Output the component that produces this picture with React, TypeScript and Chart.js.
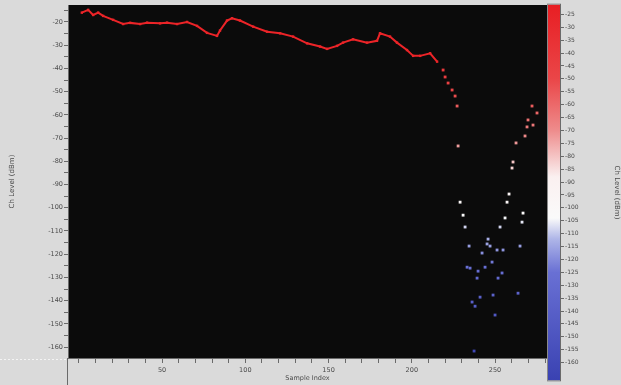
import React, { useEffect, useRef } from 'react';
import { Chart, registerables } from 'chart.js';
Chart.register(...registerables);

// ---- data ----
const traceX = [1.8, 5.6, 8.6, 11.6, 14.6, 20.6, 26.6, 30.8, 36.8, 41.0, 48.8, 53.0, 59.0, 65.0, 71.0, 77.0, 83.0, 84.8, 89.0, 92.0, 96.8, 104.7, 113.1, 120.9, 128.7, 137.1, 144.9, 149.1, 155.1, 158.7, 164.7, 173.1, 179.1, 180.9, 186.9, 191.1, 197.1, 200.8, 205.0, 211.0, 215.2];
const traceY = [-16.0, -14.8, -17.0, -16.0, -17.4, -19.1, -20.9, -20.4, -20.9, -20.3, -20.6, -20.3, -20.9, -20.0, -21.7, -24.7, -26.0, -23.7, -19.4, -18.4, -19.4, -22.0, -24.2, -24.9, -26.3, -29.2, -30.6, -31.6, -30.3, -28.9, -27.5, -28.9, -28.1, -24.9, -26.3, -28.9, -32.1, -34.6, -34.6, -33.5, -37.1];

const dotX = [218.8, 220.0, 221.8, 224.2, 226.0, 227.2, 227.8, 229.0, 230.8, 232.0, 234.4, 233.2, 235.0, 239.8, 239.2, 236.2, 238.0, 241.0, 237.4, 242.2, 244.0, 245.8, 245.2, 247.0, 248.2, 248.8, 250.0, 251.2, 251.8, 254.2, 254.8, 253.0, 256.0, 257.2, 258.4, 260.2, 260.8, 262.6, 268.0, 269.2, 269.8, 272.2, 272.8, 275.2, 266.8, 266.2, 265.0, 263.8];
const dotY = [-40.7, -43.7, -46.3, -49.3, -51.9, -56.2, -73.4, -97.6, -103.2, -108.3, -116.5, -125.6, -126.0, -127.3, -130.3, -140.6, -142.4, -138.5, -161.7, -119.5, -125.6, -113.5, -115.6, -116.5, -123.4, -137.6, -146.2, -118.2, -130.3, -128.1, -118.2, -108.3, -104.4, -97.6, -94.1, -82.9, -80.3, -72.1, -69.1, -65.2, -62.2, -56.2, -64.4, -59.2, -102.3, -106.2, -116.5, -136.8];

const xLabelValues = [50, 100, 150, 200, 250];
const colorbarMin = -166.9;
const colorbarMax = -21.2;
const colorbarLabelMin = -160;

const xTitle = 'Sample Index';
const yTitle = 'Ch Level (dBm)';
const cbTitle = 'Ch Level (dBm)';

// colormap: value -> rgb
const cmap: [number, number, number, number][] = [
  [-21, 232, 30, 35],
  [-50, 234, 70, 72],
  [-70, 238, 140, 140],
  [-88, 250, 240, 240],
  [-104, 250, 250, 250],
  [-112, 175, 182, 232],
  [-125, 105, 112, 212],
  [-167, 58, 66, 178],
];
function colorFor(v: number): string {
  if (v >= cmap[0][0]) return `rgb(${cmap[0][1]},${cmap[0][2]},${cmap[0][3]})`;
  for (let i = 0; i < cmap.length - 1; i++) {
    const a = cmap[i], b = cmap[i + 1];
    if (v <= a[0] && v >= b[0]) {
      const t = (a[0] - v) / (a[0] - b[0]);
      const r = Math.round(a[1] + (b[1] - a[1]) * t);
      const g = Math.round(a[2] + (b[2] - a[2]) * t);
      const bl = Math.round(a[3] + (b[3] - a[3]) * t);
      return `rgb(${r},${g},${bl})`;
    }
  }
  const l = cmap[cmap.length - 1];
  return `rgb(${l[1]},${l[2]},${l[3]})`;
}

const FONT = 'DejaVu Sans';
const TXT = '#4a4a4a';
const LINE = '#6a6a6a';

const bgPlugin = {
  id: 'plotbg',
  beforeDraw(chart: any) {
    const { ctx, chartArea } = chart;
    ctx.save();
    ctx.fillStyle = '#0b0b0b';
    ctx.fillRect(chartArea.left, chartArea.top, chartArea.right - chartArea.left, chartArea.bottom - chartArea.top);
    ctx.restore();
  },
  afterDraw(chart: any) {
    const { ctx, chartArea } = chart;
    ctx.save();
    ctx.strokeStyle = LINE;
    ctx.lineWidth = 1;
    ctx.beginPath();
    ctx.moveTo(chartArea.left - 0.5, chartArea.bottom);
    ctx.lineTo(chartArea.left - 0.5, chart.height);
    ctx.stroke();
    ctx.strokeStyle = '#f4f4f4';
    ctx.setLineDash([2, 2]);
    ctx.beginPath();
    ctx.moveTo(0, chartArea.bottom + 1.5);
    ctx.lineTo(chartArea.left - 1, chartArea.bottom + 1.5);
    ctx.stroke();
    ctx.restore();
  },
};

const gradPlugin = {
  id: 'cbgrad',
  beforeDraw(chart: any) {
    const { ctx, chartArea } = chart;
    const ys = chart.scales.y;
    const h = chartArea.bottom - chartArea.top;
    const g = ctx.createLinearGradient(0, chartArea.top, 0, chartArea.bottom);
    for (const s of cmap) {
      const p = (ys.getPixelForValue(s[0]) - chartArea.top) / h;
      g.addColorStop(Math.min(1, Math.max(0, p)), `rgb(${s[1]},${s[2]},${s[3]})`);
    }
    ctx.save();
    ctx.fillStyle = g;
    ctx.fillRect(chartArea.left, chartArea.top, chartArea.right - chartArea.left, h);
    ctx.strokeStyle = '#8a8a8a';
    ctx.lineWidth = 1;
    ctx.strokeRect(chartArea.left - 0.5, chartArea.top - 0.5, chartArea.right - chartArea.left + 1, h + 1);
    ctx.restore();
  },
};

export default function App() {
  const mainRef = useRef<HTMLCanvasElement>(null);
  const cbRef = useRef<HTMLCanvasElement>(null);

  useEffect(() => {
    const trace = traceX.map((x, i) => ({ x, y: traceY[i] }));
    const dots = dotX.map((x, i) => ({ x, y: dotY[i] }));
    const main = new Chart(mainRef.current!, {
      type: 'scatter',
      data: {
        datasets: [
          {
            data: trace,
            showLine: true,
            borderColor: 'rgb(236,36,40)',
            borderWidth: 2,
            pointRadius: 1.7,
            pointStyle: 'rect',
            pointBackgroundColor: 'rgb(236,36,40)',
            pointBorderWidth: 0,
          } as any,
          {
            data: dots,
            pointStyle: 'rect',
            pointRadius: 2,
            pointBorderWidth: 0,
            pointBackgroundColor: (c: any) => colorFor(c.raw ? c.raw.y : -20),
          } as any,
        ],
      },
      options: {
        animation: false,
        responsive: false,
        layout: { padding: { left: 0, right: 74, top: 5, bottom: 0 } },
        plugins: { legend: { display: false }, tooltip: { enabled: false } },
        scales: {
          x: {
            type: 'linear',
            min: -6.5,
            max: 281.2,
            afterFit: (s: any) => { s.height = 27; },
            ticks: {
              stepSize: 10,
              autoSkip: false,
              maxRotation: 0,
              includeBounds: false,
              padding: 3,
              font: { size: 6.5, family: FONT },
              color: TXT,
              callback: (v: any) => (xLabelValues.includes(Math.round(v)) ? String(Math.round(v)) : ''),
            },
            grid: { drawOnChartArea: false, tickLength: 5, color: LINE },
            border: { color: LINE },
            title: { display: true, text: xTitle, font: { size: 6.5, family: FONT }, color: TXT, padding: { top: 0, bottom: 3 } },
          },
          y: {
            type: 'linear',
            min: -164.7,
            max: -12.7,
            afterFit: (s: any) => { s.width = 68; },
            ticks: {
              stepSize: 5,
              autoSkip: false,
              includeBounds: false,
              padding: 1,
              font: { size: 6.5, family: FONT },
              color: TXT,
              callback: (v: any) => (Math.round(v) % 10 === 0 ? String(Math.round(v)) : ''),
            },
            grid: { drawOnChartArea: false, tickLength: 4, color: LINE },
            border: { color: LINE },
            title: { display: true, text: yTitle, font: { size: 7, family: FONT }, color: TXT, padding: { top: 8, bottom: 0 } },
          },
        },
      },
      plugins: [bgPlugin],
    } as any);

    const cb = new Chart(cbRef.current!, {
      type: 'scatter',
      data: { datasets: [] },
      options: {
        animation: false,
        responsive: false,
        layout: { padding: { left: 8, right: 0, top: 3, bottom: 3 } },
        plugins: { legend: { display: false }, tooltip: { enabled: false } },
        scales: {
          x: { display: false, min: 0, max: 1 },
          y: {
            position: 'right',
            min: colorbarMin,
            max: colorbarMax,
            afterFit: (s: any) => { s.width = 61; },
            ticks: {
              stepSize: 5,
              autoSkip: false,
              includeBounds: false,
              padding: 1,
              font: { size: 6, family: FONT },
              color: TXT,
              callback: (v: any) => (Math.round(v) >= colorbarLabelMin ? String(Math.round(v)) : ''),
            },
            grid: {
              drawOnChartArea: false,
              tickLength: 4,
              color: (c: any) => (c.tick && c.tick.value < colorbarLabelMin ? 'rgba(0,0,0,0)' : LINE),
            },
            border: { color: LINE },
            title: { display: true, text: cbTitle, font: { size: 7, family: FONT }, color: TXT, padding: { top: 0, bottom: 6 } },
          },
        },
      },
      plugins: [gradPlugin],
    } as any);

    return () => { main.destroy(); cb.destroy(); };
  }, []);

  return (
    <div style={{ position: 'fixed', left: 0, top: 0, width: 621, height: 385, background: '#dadada', overflow: 'hidden' }}>
      <canvas ref={mainRef} width={621} height={385} style={{ position: 'absolute', left: 0, top: 0 }} />
      <canvas ref={cbRef} width={81} height={385} style={{ position: 'absolute', left: 540, top: 0 }} />
    </div>
  );
}
